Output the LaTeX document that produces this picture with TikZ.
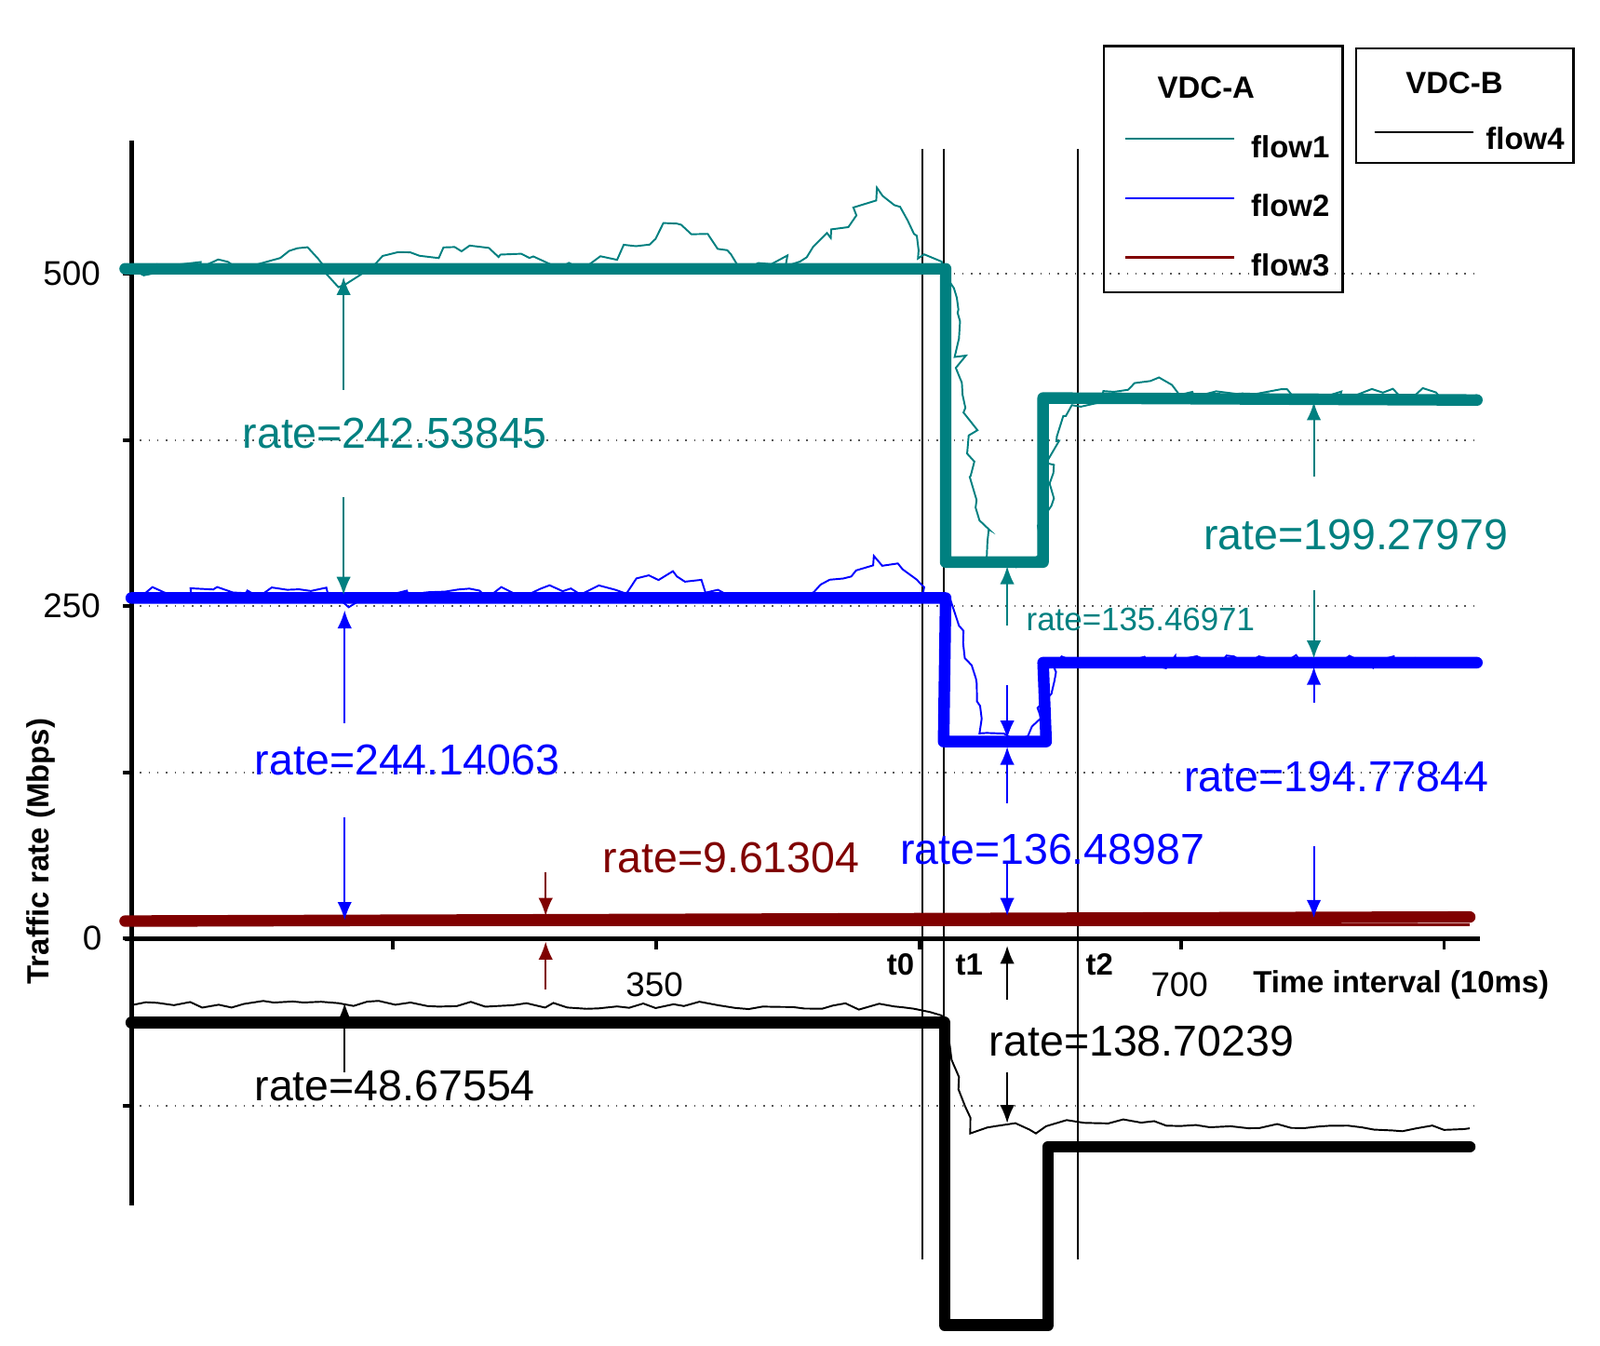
\documentclass[tikz,border=0pt]{standalone}
\usepackage{fontspec}
\setmainfont{Liberation Sans}
\usetikzlibrary{arrows.meta,decorations.pathmorphing}
\definecolor{tl}{RGB}{0,128,128}
\definecolor{bl}{RGB}{0,0,255}
\definecolor{rd}{RGB}{128,0,0}
\begin{document}
\begin{tikzpicture}[x=0.01cm,y=-0.01cm,
 thk/.style={line width=3.2pt,line cap=round,line join=round},
 noisy/.style={line width=0.5pt,decorate,decoration={random steps,segment length=3,amplitude=2}},
 calm/.style={line width=0.5pt,decorate,decoration={random steps,segment length=4,amplitude=1}},
 ann/.style={line width=0.5pt,-{Latex[length=5pt,width=4pt]}},
 big/.style={font=\fontsize{12}{12}\selectfont},
 lab/.style={font=\fontsize{9.5}{10}\selectfont},
 bold/.style={font=\bfseries\fontsize{8.5}{10}\selectfont},
 grid/.style={line width=0.4pt,dotted,gray!70!black}]
\useasboundingbox (0,0) rectangle (1560,1312);
% grid
\foreach \y in {267,429,591,753,1078} \draw[grid] (128,\y) -- (1443,\y);
% axes
\draw[line width=1.3pt] (128,137) -- (128,1175);
\draw[line width=1.3pt] (122,915) -- (1443,915);
\foreach \y in {267,429,591,753,915,1078} \draw[line width=1pt] (120,\y) -- (128,\y);
\foreach \x in {383,640,897,1152,1408} \draw[line width=1pt] (\x,915) -- (\x,926);
% verticals
\foreach \x in {899,920,1051} \draw[line width=0.5pt] (\x,145) -- (\x,1228);
% noisy traces
\draw[tl,noisy] (128,262) -- (250,258) -- (290,242) -- (310,252) -- (330,280) -- (360,262) -- (400,246) -- (450,245) -- (520,250) -- (570,262) -- (620,240) -- (660,218) -- (690,228) -- (720,260) -- (780,255) -- (810,232) -- (835,210) -- (855,183) -- (872,200) -- (885,215) -- (895,252) -- (918,255) -- (935,330) -- (950,450) -- (962,545) -- (1000,550) -- (1015,530) -- (1030,430) -- (1045,395) -- (1100,380) -- (1130,368) -- (1150,385) -- (1280,385) -- (1440,385);
\draw[bl,noisy] (128,580) -- (280,575) -- (320,580) -- (340,592) -- (380,580) -- (500,578) -- (600,575) -- (660,562) -- (700,575) -- (760,582) -- (800,570) -- (830,562) -- (852,542) -- (880,555) -- (900,578) -- (920,580) -- (935,610) -- (955,715) -- (990,722) -- (1015,700) -- (1035,640) -- (1100,645) -- (1440,645);
\draw[rd,line width=0.8pt] (128,902) -- (1433,902);
\draw[black,calm] (128,980) -- (330,978) -- (500,980) -- (700,980) -- (880,982) -- (918,990) -- (935,1050) -- (946,1105) -- (970,1098) -- (990,1095) -- (1010,1105) -- (1040,1092) -- (1200,1098) -- (1433,1100);
% steps
\draw[tl,thk] (122,262) -- (922,262) -- (922,548) -- (1017,548) -- (1017,388) -- (1440,390);
\draw[bl,thk] (128,583) -- (922,583) -- (920,723) -- (1020,723) -- (1017,646) -- (1440,646);
\draw[rd,thk] (122,898) -- (1433,894);
\draw[black,thk] (128,997) -- (921,997) -- (921,1292) -- (1022,1292) -- (1022,1118) -- (1433,1118);
% annotations
\node[tl,big] (a1) at (385,422) {rate=242.53845};
\draw[tl,ann] (335,380) -- (335,270);
\draw[tl,ann] (335,485) -- (335,580);
\node[bl,big] (a2) at (397,741) {rate=244.14063};
\draw[bl,ann] (336,705) -- (336,595);
\draw[bl,ann] (336,797) -- (336,897);
\node[rd,big] (a3) at (713,836) {rate=9.61304};
\draw[rd,ann] (532,850) -- (532,893);
\draw[rd,ann] (532,965) -- (532,918);
\node[tl,font=\fontsize{9}{10}\selectfont] (a4) at (1112,604) {rate=135.46971};
\draw[tl,ann] (982,610) -- (982,552);
\draw[bl,ann] (982,668) -- (982,720);
\draw[bl,ann] (982,783) -- (982,728);
\node[bl,big] (a5) at (1026,828) {rate=136.48987};
\draw[bl,ann] (982,840) -- (982,893);
\draw[ann] (982,975) -- (982,922);
\draw[ann] (982,1045) -- (982,1095);
\node[big] (a6) at (1113,1015) {rate=138.70239};
\node[tl,big] (a7) at (1322,521) {rate=199.27979};
\draw[tl,ann] (1281,465) -- (1281,392);
\draw[tl,ann] (1281,575) -- (1281,642);
\node[bl,big] (a8) at (1303,757) {rate=194.77844};
\draw[bl,ann] (1281,685) -- (1281,650);
\draw[bl,ann] (1281,825) -- (1281,895);
\node[big] (a9) at (385,1059) {rate=48.67554};
\draw[ann] (336,1045) -- (336,978);
% tick labels
\node[lab] (l500) at (70,267) {500};
\node[lab] (l250) at (70,591) {250};
\node[lab] (l0) at (90,915) {0};
\node[lab] (x350) at (638,960) {350};
\node[lab] (x700) at (1150,960) {700};
\node[bold] (t0) at (878,940) {t0};
\node[bold] (t1) at (945,940) {t1};
\node[bold] (t2) at (1072,940) {t2};
\node[bold] (xl) at (1366,960) {Time interval (10ms)};
\node[bold,rotate=90] (yl) at (40,830) {Traffic rate (Mbps)};
% legends
\draw[line width=0.6pt] (1076,45) rectangle (1309,285);
\node[bold] (va) at (1176,85) {VDC-A};
\draw[tl,line width=0.6pt] (1097,135) -- (1203,135); \node[bold] (f1) at (1258,143) {flow1};
\draw[bl,line width=0.6pt] (1097,193) -- (1203,193); \node[bold] (f2) at (1258,200) {flow2};
\draw[rd,line width=0.6pt] (1097,251) -- (1203,251); \node[bold] (f3) at (1258,258) {flow3};
\draw[line width=0.6pt] (1322,47) rectangle (1534,159);
\node[bold] (vb) at (1418,81) {VDC-B};
\draw[line width=0.6pt] (1340,129) -- (1437,129); \node[bold] (f4) at (1487,135) {flow4};
\end{tikzpicture}
\end{document}
